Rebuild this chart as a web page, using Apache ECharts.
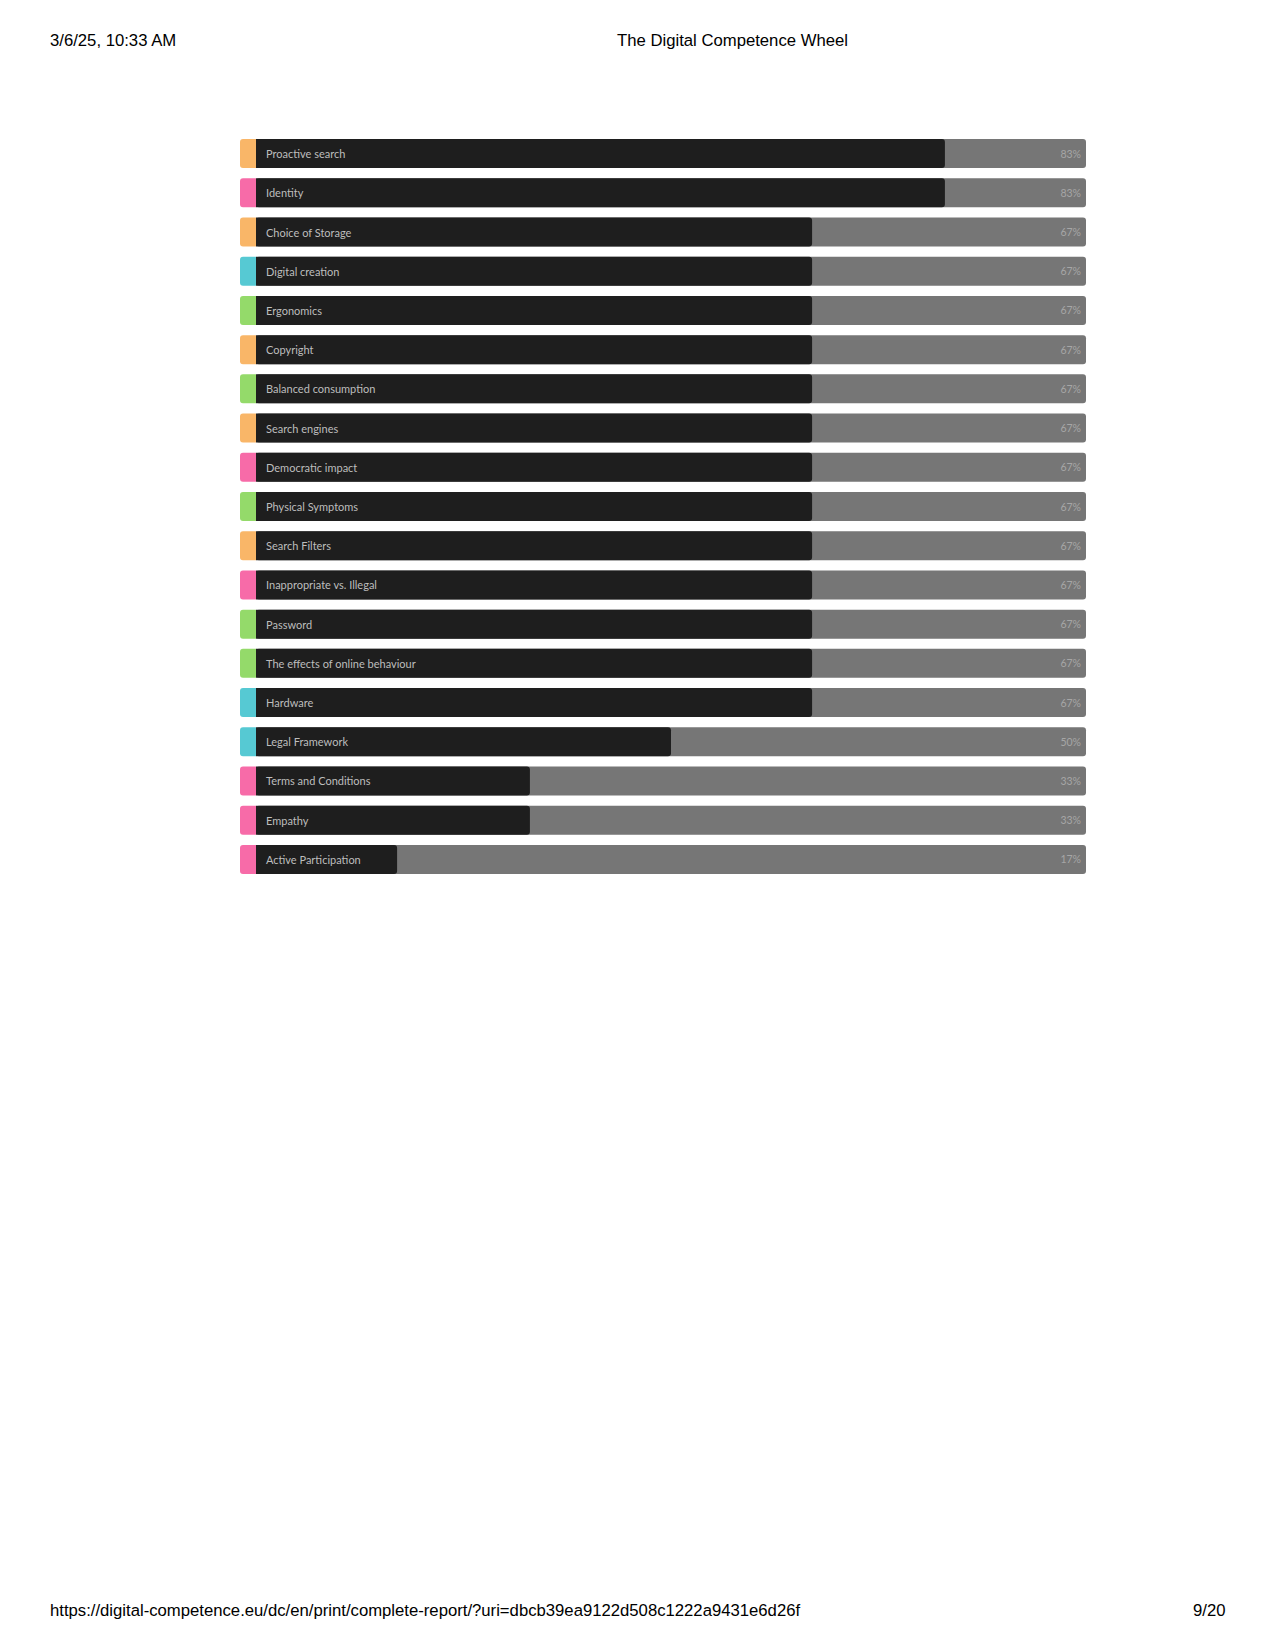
<!DOCTYPE html>
<html>
<head>
<meta charset="utf-8">
<script src="https://cdn.jsdelivr.net/npm/echarts@6/dist/echarts.min.js"></script>
<style>
  html, body { margin: 0; padding: 0; background: #fff; }
  #chart { width: 1275px; height: 1650px; }
</style>
</head>
<body>
<div id="chart"></div>
<script>
// competences, top to bottom
const names = [
  'Proactive search', 'Identity', 'Choice of Storage', 'Digital creation',
  'Ergonomics', 'Copyright', 'Balanced consumption', 'Search engines',
  'Democratic impact', 'Physical Symptoms', 'Search Filters',
  'Inappropriate vs. Illegal', 'Password', 'The effects of online behaviour',
  'Hardware', 'Legal Framework', 'Terms and Conditions', 'Empathy',
  'Active Participation'
];
// score in percent
const scores = [83, 83, 67, 67, 67, 67, 67, 67, 67, 67, 67, 67, 67, 67, 67, 50, 33, 33, 17];
// area each competence belongs to (colour strip)
const areas = [
  'info', 'comm', 'info', 'prod', 'safe', 'info', 'safe', 'info', 'comm', 'safe',
  'info', 'comm', 'safe', 'safe', 'prod', 'prod', 'comm', 'comm', 'comm'
];
const areaColors = { info: '#F9B668', comm: '#F76BA8', prod: '#56C9D3', safe: '#94DA6A' };

const chart = echarts.init(document.getElementById('chart'), null, { renderer: 'svg' });

const gridTop = 134, gridHeight = 745;
const cats = names.slice().reverse();
const pageFont = '16.7px "Liberation Sans", Arial';

chart.setOption({
  animation: false,
  grid: [
    { left: 256, top: gridTop, width: 830, height: gridHeight },
    { left: 240, top: gridTop, width: 16, height: gridHeight }
  ],
  xAxis: [
    { gridIndex: 0, type: 'value', min: 0, max: 100, show: false },
    { gridIndex: 1, type: 'value', min: 0, max: 1, show: false }
  ],
  yAxis: [
    { gridIndex: 0, type: 'category', data: cats, show: false },
    { gridIndex: 1, type: 'category', data: cats, show: false }
  ],
  graphic: [
    { type: 'text', left: 50, top: 32, style: { text: '3/6/25, 10:33 AM', font: pageFont, fill: '#000' } },
    { type: 'text', left: 617, top: 32, style: { text: 'The Digital Competence Wheel', font: pageFont, fill: '#000' } },
    { type: 'text', left: 50, top: 1602, style: { text: 'https://digital-competence.eu/dc/en/print/complete-report/?uri=dbcb39ea9122d508c1222a9431e6d26f', font: pageFont, fill: '#000' } },
    { type: 'text', left: 1193, top: 1602, style: { text: '9/20', font: pageFont, fill: '#000' } }
  ],
  series: [
    {
      // grey track with percentage at its right end
      type: 'bar',
      xAxisIndex: 0, yAxisIndex: 0,
      barWidth: 29,
      silent: true,
      data: scores.slice().reverse().map(() => 100),
      itemStyle: { color: '#767676', borderRadius: 3 },
      label: {
        show: true,
        position: 'insideRight',
        distance: 5,
        color: '#a6a6a6',
        fontSize: 10.5,
        fontFamily: 'Lato, "Open Sans", sans-serif',
        formatter: p => scores[names.length - 1 - p.dataIndex] + '%'
      }
    },
    {
      type: 'bar',
      xAxisIndex: 0, yAxisIndex: 0,
      barWidth: 29,
      barGap: '-100%',
      data: scores.slice().reverse(),
      itemStyle: { color: '#1e1e1e', borderRadius: [0, 3, 3, 0] },
      label: {
        show: true,
        position: 'insideLeft',
        distance: 10,
        color: '#bdbdbd',
        fontSize: 11,
        fontFamily: 'Lato, "Open Sans", sans-serif',
        formatter: p => p.name
      }
    },
    {
      // area colour strip
      type: 'bar',
      xAxisIndex: 1, yAxisIndex: 1,
      barWidth: 29,
      data: areas.slice().reverse().map(a => ({
        value: 1,
        itemStyle: { color: areaColors[a], borderRadius: [3, 0, 0, 3] }
      }))
    }
  ]
});
</script>
</body>
</html>
